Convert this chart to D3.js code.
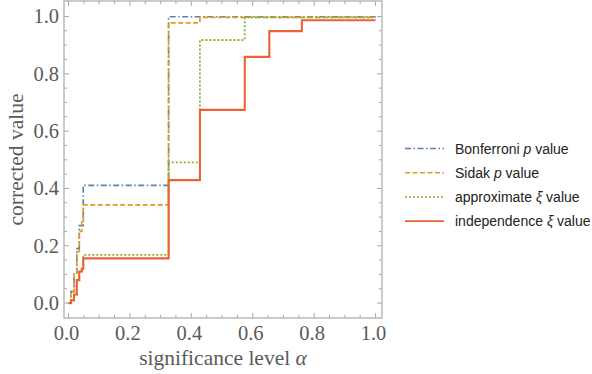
<!DOCTYPE html>
<html>
<head>
<meta charset="utf-8">
<script src="https://cdn.jsdelivr.net/npm/d3@7"></script>
<style>
  body { margin: 0; background: #fff; }
  svg { display: block; }
</style>
</head>
<body>
<svg width="592" height="374"></svg>
<script>
// step positions (significance level) shared by all curves
var breaks = [0, 0.008, 0.018, 0.027, 0.035, 0.043, 0.048, 0.326, 0.428, 0.574, 0.654, 0.76, 1.0];

// corrected value on each interval [breaks[i], breaks[i+1])
var bonferroni = [0.0, 0.04, 0.10, 0.19, 0.27, 0.27, 0.411, 0.999, 0.999, 0.999, 0.999, 0.999];
var sidak      = [0.0, 0.04, 0.10, 0.18, 0.25, 0.29, 0.343, 0.978, 0.997, 0.997, 0.997, 0.997];
var approxXi   = [0.0, 0.01, 0.03, 0.08, 0.11, 0.12, 0.168, 0.491, 0.918, 0.997, 0.997, 0.997];
var indepXi    = [0.0, 0.01, 0.03, 0.08, 0.11, 0.12, 0.156, 0.429, 0.674, 0.859, 0.949, 0.987];

var seriesNames = ["Bonferroni", "Sidak", "approximate", "independence"];
var seriesSymbols = ["p", "p", "\u03be", "\u03be"];
var xTicks = [0, 0.2, 0.4, 0.6, 0.8, 1.0];
var yTicks = [0, 0.2, 0.4, 0.6, 0.8, 1.0];

var svg = d3.select("svg");

var fLeft = 64, fRight = 382, fTop = 1, fBottom = 318;

var x = d3.scaleLinear()
    .domain([-0.0147, 1.021])
    .range([fLeft, fRight]);

var y = d3.scaleLinear()
    .domain([-0.052, 1.054])
    .range([fBottom, fTop]);

var styles = [
  {color: "#5e81b5", dash: "6,2.5,1.5,2.5", width: 1.7},
  {color: "#e19c24", dash: "5,2.5", width: 1.7},
  {color: "#8fb032", dash: "2,2", width: 1.8},
  {color: "#eb6235", dash: null, width: 2.1}
];

var allSeries = [bonferroni, sidak, approxXi, indepXi];

var line = d3.line()
    .x(function(d) { return x(d[0]); })
    .y(function(d) { return y(d[1]); })
    .curve(d3.curveStepAfter);

var plot = svg.append("g");

allSeries.forEach(function(vals, i) {
  var pts = vals.map(function(v, j) { return [breaks[j], v]; });
  pts.push([breaks[breaks.length - 1], vals[vals.length - 1]]);
  var p = plot.append("path")
      .attr("d", line(pts))
      .attr("fill", "none")
      .attr("stroke", styles[i].color)
      .attr("stroke-width", styles[i].width);
  if (styles[i].dash) p.attr("stroke-dasharray", styles[i].dash);
});

// frame with ticks on all sides
var frameColor = "#a8a8a8";
var minor = d3.range(0, 1.0001, 0.05);

var frame = svg.append("g");
frame.append("rect")
    .attr("x", fLeft).attr("y", fTop)
    .attr("width", fRight - fLeft).attr("height", fBottom - fTop)
    .attr("fill", "none")
    .attr("stroke", frameColor)
    .attr("stroke-width", 1.2);

minor.forEach(function(t) {
  var major = Math.abs(Math.round(t * 5) - t * 5) < 1e-6;
  var len = major ? 5 : 3;
  var xp = x(t), yp = y(t);
  frame.append("line").attr("x1", xp).attr("x2", xp).attr("y1", fBottom).attr("y2", fBottom - len);
  frame.append("line").attr("x1", xp).attr("x2", xp).attr("y1", fTop).attr("y2", fTop + len);
  frame.append("line").attr("y1", yp).attr("y2", yp).attr("x1", fLeft).attr("x2", fLeft + len);
  frame.append("line").attr("y1", yp).attr("y2", yp).attr("x1", fRight).attr("x2", fRight - len);
});
frame.selectAll("line").attr("stroke", frameColor).attr("stroke-width", 1);

var labelFont = "'Liberation Serif', 'Times New Roman', serif";

svg.append("g").selectAll("text")
    .data(xTicks)
    .enter().append("text")
    .attr("x", function(d) { return x(d) - 2; })
    .attr("y", 340)
    .attr("text-anchor", "middle")
    .attr("font-family", labelFont)
    .attr("font-size", 20.5)
    .attr("fill", "#5a5a5a")
    .text(function(d) { return d.toFixed(1); });

svg.append("g").selectAll("text")
    .data(yTicks)
    .enter().append("text")
    .attr("x", 59)
    .attr("y", function(d) { return y(d) + 7; })
    .attr("text-anchor", "end")
    .attr("font-family", labelFont)
    .attr("font-size", 20.5)
    .attr("fill", "#5a5a5a")
    .text(function(d) { return d.toFixed(1); });

var xTitle = svg.append("text")
    .attr("x", (fLeft + fRight) / 2)
    .attr("y", 365)
    .attr("text-anchor", "middle")
    .attr("font-family", labelFont)
    .attr("font-size", 21.5)
    .attr("fill", "#5a5a5a");
xTitle.append("tspan").text("significance level ");
xTitle.append("tspan").attr("font-style", "italic").text("\u03b1");

svg.append("text")
    .attr("transform", "translate(23," + ((fTop + fBottom) / 2) + ") rotate(-90)")
    .attr("text-anchor", "middle")
    .attr("font-family", labelFont)
    .attr("font-size", 21.5)
    .attr("fill", "#5a5a5a")
    .text("corrected value");

// legend
var legend = svg.append("g");
seriesNames.forEach(function(name, i) {
  var ly = 148.5 + i * 24.2;
  var l = legend.append("line")
      .attr("x1", 405).attr("x2", 444)
      .attr("y1", ly).attr("y2", ly)
      .attr("stroke", styles[i].color)
      .attr("stroke-width", styles[i].width - 0.3);
  if (styles[i].dash) l.attr("stroke-dasharray", styles[i].dash);
  var t = legend.append("text")
      .attr("x", 455)
      .attr("y", ly + 5)
      .attr("font-family", "'Liberation Sans', Arial, sans-serif")
      .attr("font-size", 14)
      .attr("fill", "#222");
  t.append("tspan").text(name + " ");
  t.append("tspan").attr("font-style", "italic").text(seriesSymbols[i]);
  t.append("tspan").text(" value");
});
</script>
</body>
</html>
